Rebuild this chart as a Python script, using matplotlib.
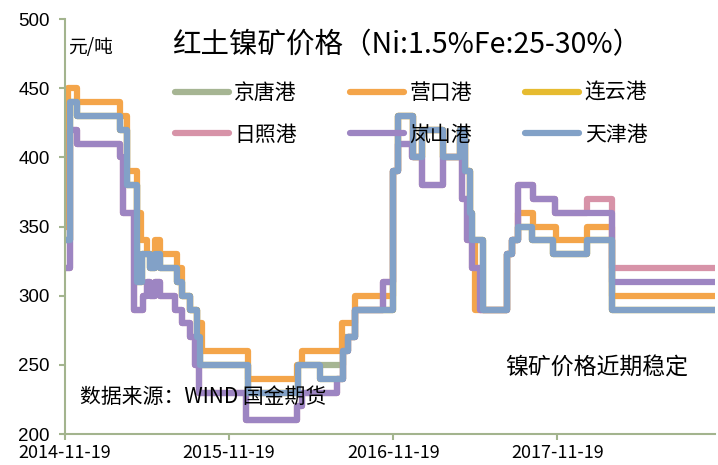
import numpy as np
import pandas as pd
import matplotlib
matplotlib.use("Agg")
import matplotlib.pyplot as plt
import matplotlib.dates as mdates

plt.rcParams['font.family'] = ['Noto Sans CJK SC', 'DejaVu Sans']

# ---- data (step change points, 元/吨) ----
end_date = "2018-11-05"

tianjin_dates = ["2014-11-19", "2014-11-30", "2014-12-16", "2015-03-21", "2015-04-06",
                 "2015-04-29", "2015-05-09", "2015-05-27", "2015-06-07", "2015-06-18",
                 "2015-07-26", "2015-08-06", "2015-08-24", "2015-09-08", "2015-09-15",
                 "2016-01-01", "2016-04-21", "2016-06-09", "2016-07-30", "2016-08-10",
                 "2016-08-25", "2016-11-19", "2016-11-30", "2017-01-02", "2017-01-21",
                 "2017-03-10", "2017-04-16", "2017-04-27", "2017-05-08", "2017-05-12",
                 "2017-06-07", "2017-07-29", "2017-08-09", "2017-08-24", "2017-09-23",
                 "2017-11-10", "2018-01-23", "2018-03-20"]
tianjin_vals = [340, 440, 430, 420, 380,
                310, 330, 320, 330, 320,
                310, 300, 290, 270, 250,
                230, 250, 240, 260, 270,
                290, 390, 430, 400, 420,
                400, 420, 390, 360, 340,
                290, 330, 340, 350, 340,
                330, 340, 290]

jingtang_dates = ["2014-11-19", "2014-11-30", "2014-12-16", "2015-03-21", "2015-04-06",
                  "2015-04-29", "2015-05-09", "2015-05-27", "2015-06-07", "2015-06-18",
                  "2015-07-26", "2015-08-06", "2015-08-24", "2015-09-08", "2015-09-15",
                  "2016-01-01", "2016-04-21", "2016-07-30", "2016-08-25", "2016-11-19",
                  "2016-11-30", "2017-01-02", "2017-01-21", "2017-03-10", "2017-04-16",
                  "2017-04-27", "2017-05-08", "2017-05-12", "2017-06-07", "2017-07-29",
                  "2017-08-09", "2017-08-24", "2017-09-23", "2017-11-10", "2018-01-23",
                  "2018-03-20"]
jingtang_vals = [340, 440, 430, 420, 380,
                 310, 330, 320, 330, 320,
                 310, 300, 290, 270, 250,
                 230, 250, 270, 290, 390,
                 430, 400, 420, 400, 420,
                 390, 360, 340, 290, 330,
                 340, 350, 340, 330, 340,
                 290]

yingkou_dates = ["2014-11-19", "2014-11-26", "2014-12-16", "2015-03-21", "2015-04-06",
                 "2015-04-29", "2015-05-08", "2015-05-20", "2015-06-07", "2015-06-18",
                 "2015-07-26", "2015-08-06", "2015-08-24", "2015-09-08", "2015-09-19",
                 "2016-01-01", "2016-04-18", "2016-04-29", "2016-07-27", "2016-08-25",
                 "2016-11-19", "2016-11-30", "2017-01-02", "2017-01-21", "2017-03-10",
                 "2017-04-16", "2017-04-27", "2017-05-08", "2017-05-20", "2017-07-29",
                 "2017-08-09", "2017-08-24", "2017-09-26", "2017-11-17", "2018-01-23",
                 "2018-03-20"]
yingkou_vals = [350, 450, 440, 430, 390,
                360, 340, 330, 340, 330,
                320, 300, 290, 280, 260,
                240, 250, 260, 280, 300,
                390, 430, 400, 420, 400,
                420, 390, 340, 290, 330,
                340, 360, 350, 340, 350,
                300]

lanshan_dates = ["2014-11-19", "2014-11-30", "2014-12-16", "2015-03-21", "2015-03-29",
                 "2015-04-22", "2015-05-12", "2015-05-20", "2015-05-27", "2015-06-07",
                 "2015-06-18", "2015-07-22", "2015-08-06", "2015-08-24", "2015-09-04",
                 "2015-09-14", "2015-12-28", "2016-04-18", "2016-04-29", "2016-07-16",
                 "2016-07-30", "2016-08-10", "2016-08-25", "2016-10-27", "2016-11-19",
                 "2016-11-30", "2016-12-30", "2017-01-21", "2017-03-10", "2017-04-20",
                 "2017-05-01", "2017-05-12", "2017-05-31", "2017-07-29", "2017-08-09",
                 "2017-08-24", "2017-09-26", "2017-11-14", "2018-03-20"]
lanshan_vals = [320, 420, 410, 400, 360,
                290, 300, 310, 300, 310,
                300, 290, 280, 270, 250,
                230, 210, 220, 230, 240,
                260, 270, 290, 310, 390,
                410, 400, 380, 400, 370,
                340, 320, 290, 330, 340,
                380, 370, 360, 310]

rizhao_dates = lanshan_dates[:-1] + ["2018-01-23", "2018-03-20"]
rizhao_vals = lanshan_vals[:-1] + [370, 320]

lianyun_dates = tianjin_dates
lianyun_vals = tianjin_vals

series = [
    ("京唐港", jingtang_dates, jingtang_vals, "#a6b593"),
    ("营口港", yingkou_dates, yingkou_vals, "#f4a54a"),
    ("连云港", lianyun_dates, lianyun_vals, "#e6bb30"),
    ("日照港", rizhao_dates, rizhao_vals, "#d793a8"),
    ("岚山港", lanshan_dates, lanshan_vals, "#9d85c2"),
    ("天津港", tianjin_dates, tianjin_vals, "#82a1c7"),
]

xticks = ["2014-11-19", "2015-11-19", "2016-11-19", "2017-11-19"]
yticks = [200, 250, 300, 350, 400, 450, 500]

# ---- plot ----
W, H = 718, 465
fig = plt.figure(figsize=(W / 100, H / 100), dpi=100)
ax = fig.add_axes([65 / W, 1 - 434 / H, 650 / W, 415 / H])

handles = {}
for name, d, v, c in series:
    dd = pd.to_datetime(d + [end_date])
    vv = list(v) + [v[-1]]
    ln, = ax.plot(dd, vv, drawstyle='steps-post', color=c, lw=4.5,
                  solid_joinstyle='round', solid_capstyle='round', label=name)
    handles[name] = ln

ax.set_xlim(pd.Timestamp("2014-11-19"), pd.Timestamp(end_date))
ax.set_ylim(200, 500)
ax.set_yticks(yticks)
ax.set_xticks(pd.to_datetime(xticks))
ax.set_xticklabels(xticks, fontsize=13)
ax.set_yticklabels([str(t) for t in yticks], fontsize=13.5, family='Liberation Sans')

spine_c = "#a3b48e"
for s in ['top', 'right']:
    ax.spines[s].set_visible(False)
for s in ['left', 'bottom']:
    ax.spines[s].set_color(spine_c)
    ax.spines[s].set_linewidth(1.5)
ax.tick_params(axis='both', direction='out', length=4, width=1.5, color=spine_c, labelcolor='black')
ax.tick_params(axis='y', pad=7)
ax.tick_params(axis='x', pad=3.5)

order = ["京唐港", "日照港", "营口港", "岚山港", "连云港", "天津港"]
ax.legend([handles[n] for n in order], order, ncol=3, loc='upper left',
          bbox_to_anchor=(175 / W, 1 - 82 / H), bbox_transform=fig.transFigure,
          frameon=False, fontsize=15, handlelength=2.6, handletextpad=0.25,
          columnspacing=2.55, labelspacing=0.95, borderpad=0, borderaxespad=0)

fig.text(172 / W, 1 - 45 / H, "红土镍矿价格（Ni:1.5%Fe:25-30%）", fontsize=20.5,
         ha='left', va='center')
fig.text(68 / W, 1 - 48 / H, "元/吨", fontsize=13.5, ha='left', va='center')
fig.text(505 / W, 1 - 368 / H, "镍矿价格近期稳定", fontsize=16.5, ha='left', va='center')
fig.text(80 / W, 1 - 397 / H, "数据来源：WIND 国金期货", fontsize=15, ha='left', va='center')

fig.savefig("out.png", dpi=100)
